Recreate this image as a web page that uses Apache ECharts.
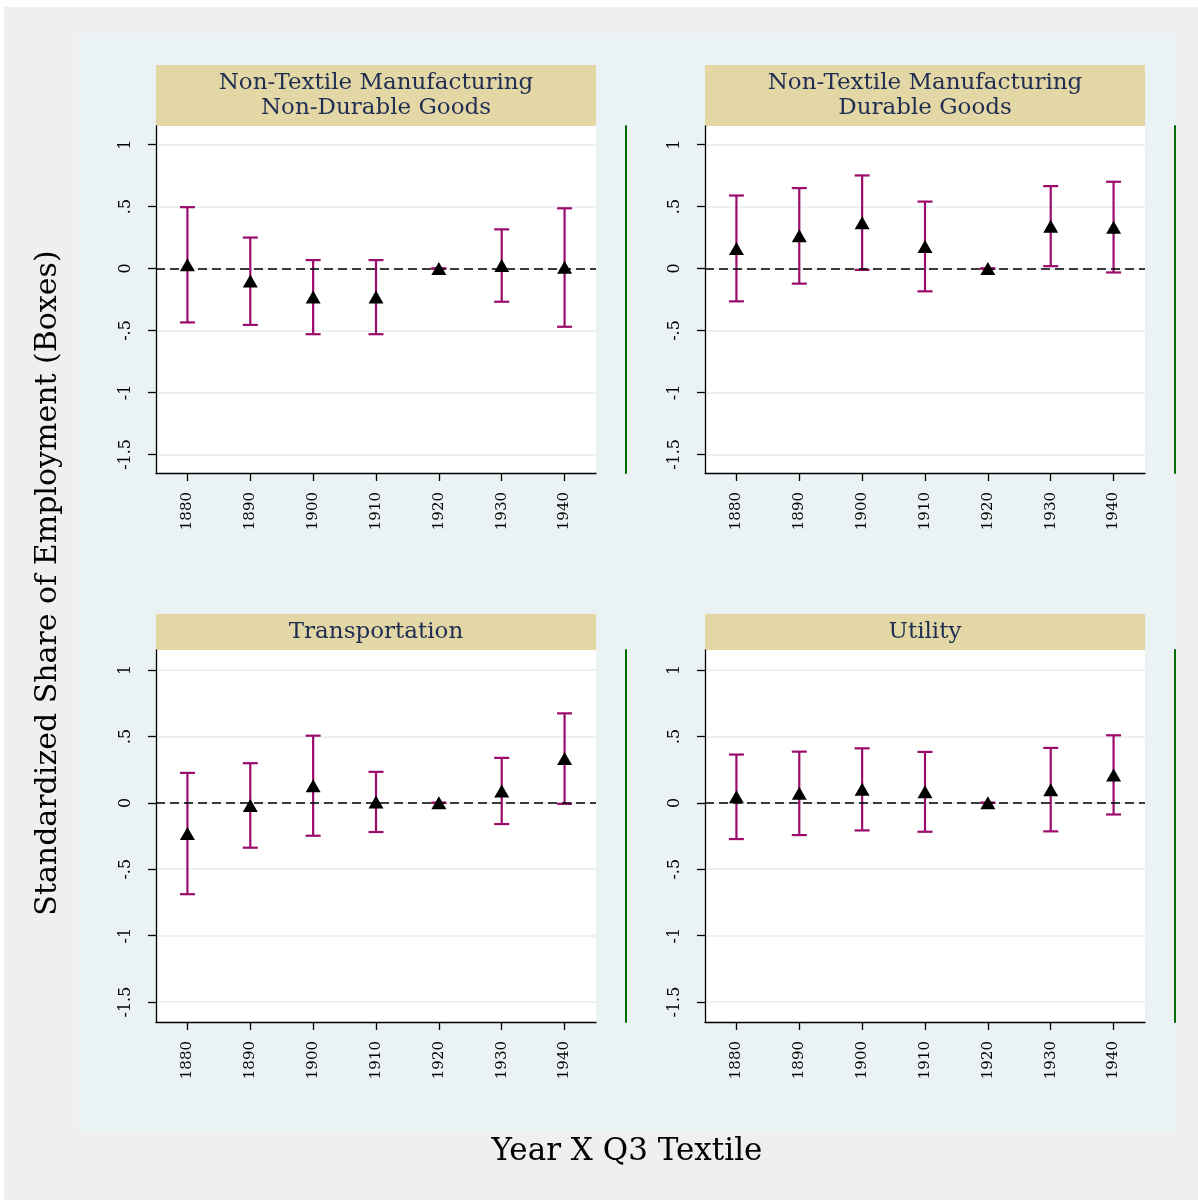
<!DOCTYPE html>
<html><head><meta charset="utf-8">
<script src="https://cdn.jsdelivr.net/npm/echarts@6/dist/echarts.min.js"></script>
<style>html,body{margin:0;padding:0;background:#fff}#c{width:1198px;height:1200px}</style>
</head><body><div id="c"></div>
<script>
// ---- data ----
const years = ['1880','1890','1900','1910','1920','1930','1940'];
const yTickValues = [-1.5, -1, -0.5, 0, 0.5, 1];
const yTickLabels = {'-1.5':'-1.5','-1':'-1','-0.5':'-.5','0':'0','0.5':'.5','1':'1'};
const panelTitles = [
  ['Non-Textile Manufacturing', 'Non-Durable Goods'],
  ['Non-Textile Manufacturing', 'Durable Goods'],
  ['Transportation'],
  ['Utility']
];
const nonDurableEst = [0.03, -0.10, -0.23, -0.23, 0, 0.025, 0.01];
const nonDurableLo  = [-0.435, -0.455, -0.53, -0.53, 0, -0.268, -0.47];
const nonDurableHi  = [0.495, 0.25, 0.068, 0.068, 0, 0.316, 0.486];
const durableEst = [0.162, 0.264, 0.37, 0.178, 0, 0.342, 0.334];
const durableLo  = [-0.265, -0.122, -0.011, -0.184, 0, 0.019, -0.032];
const durableHi  = [0.589, 0.649, 0.751, 0.54, 0, 0.665, 0.70];
const transportEst = [-0.231, -0.02, 0.129, 0.006, 0, 0.089, 0.333];
const transportLo  = [-0.688, -0.338, -0.248, -0.22, 0, -0.16, -0.008];
const transportHi  = [0.225, 0.298, 0.505, 0.233, 0, 0.338, 0.673];
const utilityEst = [0.045, 0.071, 0.101, 0.083, 0, 0.099, 0.21];
const utilityLo  = [-0.273, -0.243, -0.208, -0.218, 0, -0.215, -0.088];
const utilityHi  = [0.363, 0.385, 0.41, 0.383, 0, 0.413, 0.508];
const yMin = -1.65, yMax = 1.15;

// ---- layout ----
const FONT = 'DejaVu Serif';
const panels = [
  {est: nonDurableEst, lo: nonDurableLo, hi: nonDurableHi, left: 156, top: 126, h: 347, stripTop: 65},
  {est: durableEst, lo: durableLo, hi: durableHi, left: 705, top: 126, h: 347, stripTop: 65},
  {est: transportEst, lo: transportLo, hi: transportHi, left: 156, top: 650, h: 372, stripTop: 614},
  {est: utilityEst, lo: utilityLo, hi: utilityHi, left: 705, top: 650, h: 372, stripTop: 614}
];
const W = 440;
const barColor = '#9b0b6b';

const grid = [], xAxis = [], yAxis = [], series = [], graphic = [];
graphic.push({type:'rect', z:-100, silent:true, shape:{x:4,y:7,width:1194,height:1193}, style:{fill:'#efefef'}});
graphic.push({type:'rect', z:-99, silent:true, shape:{x:78,y:33,width:1099,height:1098}, style:{fill:'#eaf2f3'}});

panels.forEach((p, k) => {
  grid.push({left: p.left, top: p.top, width: W, height: p.h, show: true, backgroundColor: '#ffffff', borderWidth: 0});
  xAxis.push({
    type: 'category', gridIndex: k, data: years, boundaryGap: true,
    axisLine: {show: true, onZero: false, lineStyle: {color: '#000', width: 1.3}},
    axisTick: {show: true, alignWithLabel: true, length: 8, lineStyle: {color: '#000', width: 1.3}},
    axisLabel: {rotate: 90, margin: 19, fontFamily: FONT, fontSize: 15, color: '#000'},
    splitLine: {show: false}
  });
  yAxis.push({
    type: 'value', gridIndex: k, min: yMin, max: yMax,
    axisLine: {show: true, onZero: false, lineStyle: {color: '#000', width: 1.3}},
    axisTick: {show: true, length: 8, customValues: yTickValues, lineStyle: {color: '#000', width: 1.3}},
    axisLabel: {rotate: 90, margin: 22, fontFamily: FONT, fontSize: 16, color: '#000',
      customValues: yTickValues, formatter: v => yTickLabels[String(v)] ?? String(v)},
    splitLine: {show: true, lineStyle: {color: '#eaf2f3', width: 2}}
  });
  // right-side green rule
  yAxis.push({
    type: 'value', gridIndex: k, min: yMin, max: yMax, position: 'right', offset: 30,
    axisLine: {show: true, onZero: false, lineStyle: {color: '#006b00', width: 2}},
    axisTick: {show: false}, axisLabel: {show: false}, splitLine: {show: false}
  });
  const yIdx = 2 * k;
  // zero reference line
  series.push({
    type: 'line', xAxisIndex: k, yAxisIndex: yIdx, data: [], z: 1,
    markLine: {silent: true, symbol: 'none', label: {show: false},
      lineStyle: {color: '#000', type: [9, 5], width: 1.7}, data: [{yAxis: 0}]}
  });
  // error bars
  series.push({
    type: 'custom', xAxisIndex: k, yAxisIndex: yIdx, z: 2,
    data: years.map((y, i) => [i, p.lo[i], p.hi[i]]),
    encode: {x: 0, y: [1, 2]},
    renderItem: (params, api) => {
      const x = api.value(0);
      const t = api.coord([x, api.value(2)]);
      const b = api.coord([x, api.value(1)]);
      const hw = 7.5;
      const style = {stroke: barColor, lineWidth: 2.2};
      return {type: 'group', children: [
        {type: 'line', shape: {x1: t[0], y1: t[1], x2: b[0], y2: b[1]}, style},
        {type: 'line', shape: {x1: t[0]-hw, y1: t[1], x2: t[0]+hw, y2: t[1]}, style},
        {type: 'line', shape: {x1: b[0]-hw, y1: b[1], x2: b[0]+hw, y2: b[1]}, style}
      ]};
    }
  });
  // point estimates
  series.push({
    type: 'scatter', xAxisIndex: k, yAxisIndex: yIdx, z: 3,
    symbol: 'triangle', symbolSize: [15, 13],
    itemStyle: {color: '#000', opacity: 1},
    data: years.map((y, i) => [i, p.est[i]])
  });
  // strip
  const stripH = p.top - p.stripTop;
  graphic.push({type: 'rect', silent: true, shape: {x: p.left, y: p.stripTop, width: W, height: stripH}, style: {fill: '#e3d8a5'}});
  const lines = panelTitles[k];
  const lh = 25;
  const cy = p.stripTop + stripH / 2;
  lines.forEach((txt, j) => {
    graphic.push({type: 'text', silent: true, x: p.left + W / 2, y: cy + (j - (lines.length - 1) / 2) * lh,
      style: {text: txt, fill: '#1f2d52', font: '23px "' + FONT + '"', textAlign: 'center', textVerticalAlign: 'middle'}});
  });
});

graphic.push({type: 'text', silent: true, x: 48, y: 583, rotation: Math.PI / 2,
  style: {text: 'Standardized Share of Employment (Boxes)', fill: '#000', font: '30px "' + FONT + '"', textAlign: 'center', textVerticalAlign: 'middle'}});
graphic.push({type: 'text', silent: true, x: 627, y: 1152,
  style: {text: 'Year X Q3 Textile', fill: '#000', font: '31px "' + FONT + '"', textAlign: 'center', textVerticalAlign: 'middle'}});

const chart = echarts.init(document.getElementById('c'), null, {renderer: 'canvas'});
chart.setOption({animation: false, backgroundColor: '#ffffff', grid, xAxis, yAxis, series, graphic});
</script></body></html>
